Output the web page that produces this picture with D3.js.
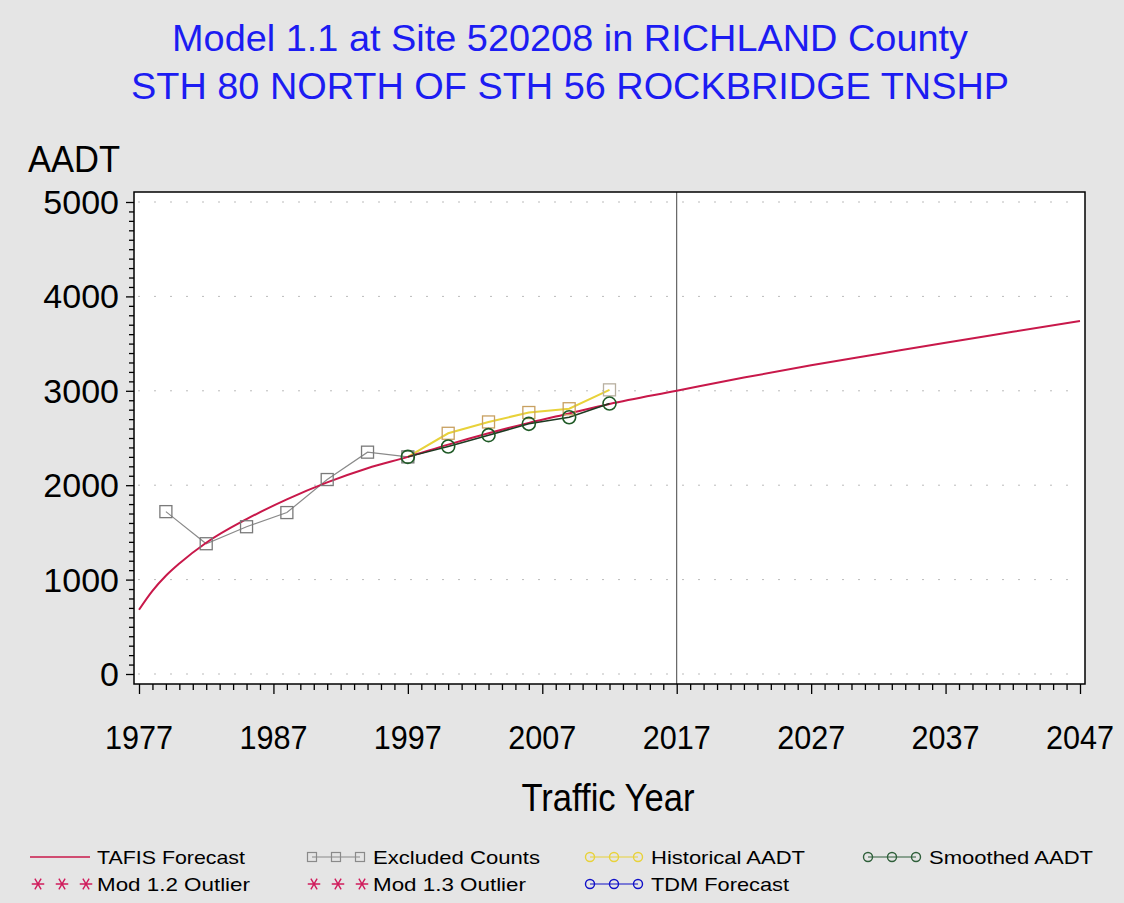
<!DOCTYPE html>
<html lang="en">

<head>
  <meta charset="UTF-8">
  <script src="https://cdnjs.cloudflare.com/ajax/libs/d3/7.8.5/d3.min.js"></script>
  <style>
    body {
      margin: 0;
      background: #e5e5e5;
      font-family: 'Liberation Sans', Arial, sans-serif;
    }
  </style>
  <title>Model 1.1 at Site 520208</title>
</head>

<body>
  <div id="chart"></div>
  <script>
    // values
    const tafisYears = [1977, 1978, 1979, 1980, 1982, 1985, 1988, 1991, 1994, 1997, 2000, 2003, 2006, 2009, 2012, 2017, 2022, 2027, 2032, 2037, 2042, 2047];
    const tafisValues = [680, 880, 1040, 1170, 1390, 1640, 1850, 2030, 2180, 2300, 2430, 2550, 2660, 2760, 2860, 3000, 3140, 3270, 3390, 3510, 3625, 3740];

    const excludedYears = [1979, 1982, 1985, 1988, 1991, 1994, 1997];
    const excludedValues = [1720, 1380, 1560, 1710, 2060, 2350, 2300];

    const historicalYears = [1997, 2000, 2003, 2006, 2009, 2012];
    const historicalValues = [2300, 2550, 2670, 2770, 2810, 3010];

    const smoothedYears = [1997, 2000, 2003, 2006, 2009, 2012];
    const smoothedValues = [2300, 2410, 2530, 2650, 2720, 2865];

    const xTicks = [1977, 1987, 1997, 2007, 2017, 2027, 2037, 2047];
    const yTicks = [0, 1000, 2000, 3000, 4000, 5000];
    const refYear = 2017;

    const titles = ["Model 1.1 at Site 520208 in RICHLAND County", "STH 80 NORTH OF STH 56 ROCKBRIDGE TNSHP"];

    var W = 1124, H = 903;
    var frame = { left: 134, right: 1085, top: 192, bottom: 684 };

    var svg = d3.select("#chart").append("svg")
      .attr("width", W).attr("height", H);

    svg.append("rect").attr("width", W).attr("height", H).attr("fill", "#e5e5e5");

    var x = d3.scaleLinear().domain([1977, 2047]).range([139, 1080]);
    var y = d3.scaleLinear().domain([0, 5000]).range([674, 202]);

    // plot area
    svg.append("rect")
      .attr("x", frame.left).attr("y", frame.top)
      .attr("width", frame.right - frame.left).attr("height", frame.bottom - frame.top)
      .attr("fill", "#fff");

    // titles
    svg.selectAll(".title").data(titles).enter().append("text")
      .attr("x", 570).attr("y", (d, i) => 51 + i * 48)
      .attr("text-anchor", "middle")
      .attr("font-size", 37)
      .attr("fill", "#1c1cf2")
      .attr("textLength", (d, i) => [796, 878][i])
      .attr("lengthAdjust", "spacingAndGlyphs")
      .text(d => d);

    // dotted grid
    svg.append("g").selectAll("line").data(yTicks).enter().append("line")
      .attr("x1", frame.left + 4).attr("x2", frame.right - 4)
      .attr("y1", d => y(d)).attr("y2", d => y(d))
      .attr("stroke", "#bbb").attr("stroke-width", 1)
      .attr("stroke-dasharray", "2,14");

    // reference line
    svg.append("line")
      .attr("x1", x(refYear)).attr("x2", x(refYear))
      .attr("y1", frame.top).attr("y2", frame.bottom)
      .attr("stroke", "#444").attr("stroke-width", 1);

    // x axis
    var xAxis = d3.axisBottom(x)
      .tickValues(d3.range(1977, 2048, 1))
      .tickSize(6).tickFormat("");
    var gx = svg.append("g").attr("transform", "translate(0," + frame.bottom + ")").call(xAxis);
    gx.select(".domain").remove();
    gx.selectAll(".tick line").attr("stroke", "#000").attr("stroke-width", 1.3)
      .attr("y2", d => (d - 1977) % 10 === 0 ? 10 : 6);
    svg.append("g").selectAll("text").data(xTicks).enter().append("text")
      .attr("x", d => x(d)).attr("y", 749)
      .attr("text-anchor", "middle").attr("font-size", 34)
      .attr("textLength", 68).attr("lengthAdjust", "spacingAndGlyphs")
      .text(d => d);

    // y axis
    var yAxis = d3.axisLeft(y)
      .tickValues(d3.range(0, 5001, 100))
      .tickSize(6).tickFormat("");
    var gy = svg.append("g").attr("transform", "translate(" + frame.left + ",0)").call(yAxis);
    gy.select(".domain").remove();
    gy.selectAll(".tick line").attr("stroke", "#000").attr("stroke-width", 1.3)
      .attr("x2", d => d % 1000 === 0 ? -8 : -5);
    svg.append("g").selectAll("text").data(yTicks).enter().append("text")
      .attr("x", 119).attr("y", d => y(d) + 12)
      .attr("text-anchor", "end").attr("font-size", 34)
      .text(d => d);

    // frame
    svg.append("rect")
      .attr("x", frame.left).attr("y", frame.top)
      .attr("width", frame.right - frame.left).attr("height", frame.bottom - frame.top)
      .attr("fill", "none").attr("stroke", "#000").attr("stroke-width", 1.5);

    // axis labels
    svg.append("text").attr("x", 28).attr("y", 172)
      .attr("font-size", 37).attr("textLength", 92).attr("lengthAdjust", "spacingAndGlyphs")
      .text("AADT");
    svg.append("text").attr("x", 608).attr("y", 811)
      .attr("text-anchor", "middle").attr("font-size", 38)
      .attr("textLength", 173).attr("lengthAdjust", "spacingAndGlyphs")
      .text("Traffic Year");

    var line = d3.line().x(d => x(d[0])).y(d => y(d[1]));
    var smoothLine = d3.line().x(d => x(d[0])).y(d => y(d[1])).curve(d3.curveMonotoneX);

    // excluded counts
    var excl = d3.zip(excludedYears, excludedValues);
    svg.append("path").datum(excl)
      .attr("d", line).attr("fill", "none").attr("stroke", "#8a8a8a").attr("stroke-width", 1.2);

    // historical AADT
    var hist = d3.zip(historicalYears, historicalValues);
    svg.append("path").datum(hist)
      .attr("d", line).attr("fill", "none").attr("stroke", "#e8d23a").attr("stroke-width", 2);

    // TAFIS forecast
    svg.append("path").datum(d3.zip(tafisYears, tafisValues))
      .attr("d", smoothLine).attr("fill", "none")
      .attr("stroke", "#c8184a").attr("stroke-width", 2);

    // smoothed AADT
    var smooth = d3.zip(smoothedYears, smoothedValues);
    svg.append("path").datum(smooth)
      .attr("d", line).attr("fill", "none").attr("stroke", "#1e3a22").attr("stroke-width", 1.5);

    svg.append("g").selectAll("rect").data(excl).enter().append("rect")
      .attr("x", d => x(d[0]) - 6).attr("y", d => y(d[1]) - 6)
      .attr("width", 12).attr("height", 12)
      .attr("fill", "none").attr("stroke", "#7a7a7a").attr("stroke-width", 1.3);
    svg.append("g").selectAll("rect").data(hist.slice(1)).enter().append("rect")
      .attr("x", d => x(d[0]) - 6).attr("y", d => y(d[1]) - 6)
      .attr("width", 12).attr("height", 12)
      .attr("fill", "none").attr("stroke", (d, i) => i === 4 ? "#b8b0a0" : "#c8a060").attr("stroke-width", 1.3);
    svg.append("g").selectAll("circle").data(smooth).enter().append("circle")
      .attr("cx", d => x(d[0])).attr("cy", d => y(d[1])).attr("r", 6.5)
      .attr("fill", "none").attr("stroke", "#1f5a26").attr("stroke-width", 1.6);

    // legend
    var legendItems = [
      { label: "TAFIS Forecast", kind: "line", color: "#c8184a", col: 0, row: 0, w: 148 },
      { label: "Excluded Counts", kind: "square", color: "#8a8a8a", col: 1, row: 0, w: 167 },
      { label: "Historical AADT", kind: "circle", color: "#e8d23a", col: 2, row: 0, w: 154 },
      { label: "Smoothed AADT", kind: "circle", color: "#2f5f3a", col: 3, row: 0, w: 164 },
      { label: "Mod 1.2 Outlier", kind: "star", color: "#d01c5c", col: 0, row: 1, w: 153 },
      { label: "Mod 1.3 Outlier", kind: "star", color: "#d01c5c", col: 1, row: 1, w: 153 },
      { label: "TDM Forecast", kind: "circle", color: "#1010c8", col: 2, row: 1, w: 138 }
    ];
    var colX = [30, 306, 584, 862];
    var star = d3.symbol().type(d3.symbolAsterisk).size(110);
    var lg = svg.append("g").selectAll("g").data(legendItems).enter().append("g")
      .attr("transform", d => "translate(" + colX[d.col] + "," + (857 + d.row * 27) + ")");
    lg.each(function (d) {
      var g = d3.select(this);
      var xs = [6, 30, 54];
      if (d.kind === "line") {
        g.append("line").attr("x1", 0).attr("x2", 60).attr("stroke", d.color).attr("stroke-width", 1.5);
      } else if (d.kind === "star") {
        xs.forEach(s => {
          g.append("path").attr("d", star)
            .attr("transform", "translate(" + (s + 2) + ",0) rotate(30)")
            .attr("fill", "none").attr("stroke", d.color).attr("stroke-width", 1.4);
        });
      } else {
        g.append("line").attr("x1", xs[0]).attr("x2", xs[2]).attr("stroke", d.color).attr("stroke-width", 1.2);
        xs.forEach(s => {
          if (d.kind === "square") {
            g.append("rect").attr("x", s - 4.5).attr("y", -4.5).attr("width", 9).attr("height", 9)
              .attr("fill", "none").attr("stroke", d.color).attr("stroke-width", 1.2);
          } else {
            g.append("circle").attr("cx", s).attr("r", 4.5)
              .attr("fill", "none").attr("stroke", d.color).attr("stroke-width", 1.4);
          }
        });
      }
      g.append("text").attr("x", 67).attr("y", 7)
        .attr("font-size", 19).attr("textLength", d.w).attr("lengthAdjust", "spacingAndGlyphs")
        .text(d.label);
    });
  </script>
</body>

</html>
